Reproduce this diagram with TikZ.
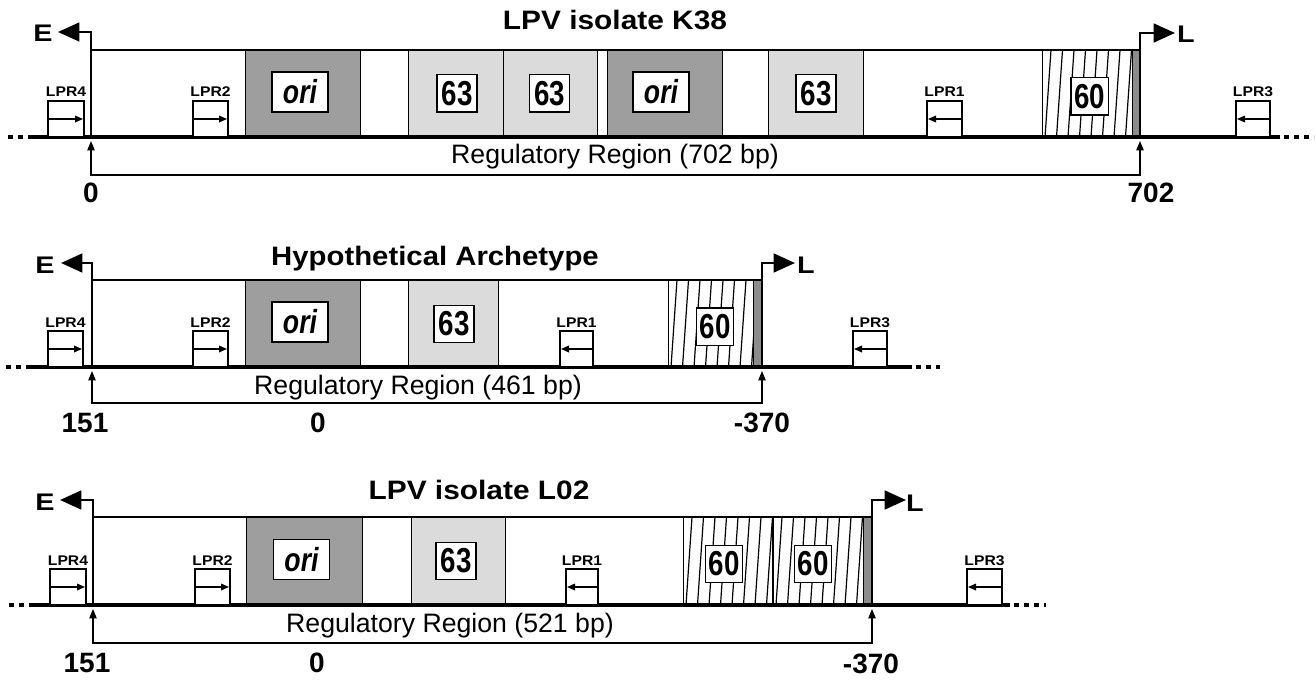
\documentclass[tikz,border=0pt]{standalone}
\usepackage{fontspec}
\usepackage{graphicx}
\setmainfont{Liberation Sans}
\usetikzlibrary{arrows.meta}
\definecolor{oricol}{gray}{0.62}
\definecolor{csixtythree}{gray}{0.86}
\definecolor{stripcol}{gray}{0.55}

\newcommand{\narrow}[1]{\scalebox{0.8}[1]{#1}}
\newcommand{\widen}[2]{\scalebox{#1}[1]{#2}}

% shaded segment: x1 x2 top base colour
\newcommand{\mkseg}[5]{\fill[#5] (#1,#3) rectangle (#2,#4);
  \draw[segline] (#1,#3) rectangle (#2,#4);}
% hatched segment: x1 x2 top base
\newcommand{\mkhatch}[4]{\fill[white] (#1,#3) rectangle (#2,#4);
  \begin{scope}
    \clip (#1,#3) rectangle (#2,#4);
    \foreach \k in {0,...,8} {\draw[hatchline] ({#1+3+\k*11.5},#4) -- ({#1+9+\k*11.5},#3);}
  \end{scope}
  \draw[segline] (#1,#3) rectangle (#2,#4);}
% LPR box, arrow to the right: name x1 x2 base label
\newcommand{\lprright}[5]{\draw[lprbox] (#2,{#4-36}) rectangle (#3,#4);
  \draw[lprarrow] (#2,{#4-18}) -- ({#3-1},{#4-18});
  \node[lprtext] (#1) at ({(#2+#3)/2},{#4-40}) {\widen{1.12}{#5}};}
% LPR box, arrow to the left
\newcommand{\lprleft}[5]{\draw[lprbox] (#2,{#4-36}) rectangle (#3,#4);
  \draw[lprarrow] (#3,{#4-18}) -- ({#2+1},{#4-18});
  \node[lprtext] (#1) at ({(#2+#3)/2},{#4-40}) {\widen{1.12}{#5}};}

\begin{document}
\begin{tikzpicture}[x=0.75pt,y=-0.75pt,
  segline/.style={draw=black, line width=0.6pt},
  hatchline/.style={draw=black, line width=0.9pt},
  frame/.style={line width=1.1pt},
  baseln/.style={line width=2.3pt},
  outln/.style={line width=3pt},
  dotsln/.style={line width=3pt, dash pattern=on 4pt off 3.5pt},
  promoter/.style={line width=2pt, -{Triangle[length=16pt,width=14pt]}},
  bracket/.style={line width=0.9pt, {Triangle[length=7pt,width=5.5pt]}-{Triangle[length=7pt,width=5.5pt]}},
  lprbox/.style={draw=black, fill=white, line width=1pt},
  lprarrow/.style={line width=0.9pt, -{Triangle[length=6pt,width=5pt]}},
  lprtext/.style={inner sep=0pt, anchor=base, font=\fontsize{10.5}{11}\selectfont\bfseries},
  orilbl/.style={draw=black, fill=white, line width=1pt, inner sep=0pt, minimum width=42pt, minimum height=30pt, font=\fontsize{25}{25}\selectfont\bfseries\itshape},
  numlbl/.style={draw=black, fill=white, line width=1pt, inner sep=0pt, minimum width=30pt, minimum height=28pt, font=\fontsize{26}{26}\selectfont\bfseries},
  sixlbl/.style={draw=black, fill=white, line width=1pt, inner sep=0pt, minimum width=28pt, minimum height=28pt, font=\fontsize{26}{26}\selectfont\bfseries},
  titletext/.style={anchor=base, inner sep=0pt, font=\fontsize{20}{24}\selectfont\bfseries},
  regtext/.style={anchor=base, inner sep=0pt, font=\fontsize{20}{24}\selectfont},
  numtext/.style={anchor=base, inner sep=0pt, font=\fontsize{21}{24}\selectfont\bfseries},
  eltext/.style={anchor=base, inner sep=0pt, font=\fontsize{18}{20}\selectfont\bfseries}]
\useasboundingbox (0,0) rectangle (1316,681);

%================ Row 1 : LPV isolate K38 ================
\mkseg{245}{360}{50}{137}{oricol}
\mkseg{408}{503}{50}{137}{csixtythree}
\mkseg{503}{597}{50}{137}{csixtythree}
\mkseg{607}{722}{50}{137}{oricol}
\mkseg{768}{863}{50}{137}{csixtythree}
\mkhatch{1042}{1132}{50}{137}
\mkseg{1132}{1140}{50}{137}{stripcol}
\draw[frame] (91,50) -- (1140,50);
\coordinate (ks) at (91,137);
\coordinate (ke) at (1140,137);
\coordinate (kll) at (32,137);
\coordinate (krr) at (1280,137);
\draw[baseln] (ks) -- (ke);
\draw[outln] (kll) -- (ks);
\draw[outln] (ke) -- (krr);
\draw[dotsln] (8,137) -- (kll);
\draw[dotsln] (1284,137) -- (1314,137);
\coordinate (kE) at (58,32);
\coordinate (kL) at (1175,33);
\draw[promoter] (ks) |- (kE);
\draw[promoter] (ke) |- (kL);
\lprright{klpr4}{48}{84}{137}{LPR4}
\lprright{klpr2}{193}{228}{137}{LPR2}
\lprleft{klpr1}{927}{962}{137}{LPR1}
\lprleft{klpr3}{1236}{1270}{137}{LPR3}
\node[orilbl] (kori1) at (300,92) {\narrow{ori}};
\node[numlbl] (ksa) at (457,93.5) {\narrow{63}};
\node[numlbl] (ksb) at (549.5,93.5) {\narrow{63}};
\node[orilbl] (kori2) at (661,92) {\narrow{ori}};
\node[numlbl] (ksc) at (816,93.5) {\narrow{63}};
\node[sixlbl] (ksix) at (1089.5,96.5) {\narrow{60}};
\coordinate (kta) at (91,141);
\coordinate (ktb) at (1140,141);
\coordinate (kbr) at (1140,175);
\draw[bracket] (kta) |- (kbr) -- (ktb);
\node[titletext] (ktitle) at (615,30) {\widen{1.12}{LPV isolate K38}};
\node[regtext] (kreg) at (615,163) {Regulatory Region (702 bp)};
\node[numtext] (kn0) at (91,202) {0};
\node[numtext] (kn702) at (1151,202) {702};
\node[eltext] (kEt) at (43,42) {\widen{1.2}{E}};
\node[eltext] (kLt) at (1186,43) {\widen{1.2}{L}};

%================ Row 2 : Hypothetical Archetype ================
\mkseg{245}{360}{280}{367}{oricol}
\mkseg{408}{498}{280}{367}{csixtythree}
\mkhatch{668}{753}{280}{367}
\mkseg{753}{762}{280}{367}{stripcol}
\draw[frame] (92,280) -- (762,280);
\coordinate (hs) at (92,367);
\coordinate (he) at (762,367);
\coordinate (hll) at (30,367);
\coordinate (hrr) at (912,367);
\draw[baseln] (hs) -- (he);
\draw[outln] (hll) -- (hs);
\draw[outln] (he) -- (hrr);
\draw[dotsln] (6,367) -- (hll);
\draw[dotsln] (916,367) -- (940,367);
\coordinate (hE) at (61,263);
\coordinate (hL) at (795,263);
\draw[promoter] (hs) |- (hE);
\draw[promoter] (he) |- (hL);
\lprright{hlpr4}{48}{83}{367}{LPR4}
\lprright{hlpr2}{193}{228}{367}{LPR2}
\lprleft{hlpr1}{560}{593}{367}{LPR1}
\lprleft{hlpr3}{853}{887}{367}{LPR3}
\node[orilbl] (hori) at (300,322) {\narrow{ori}};
\node[numlbl] (hsa) at (454,324) {\narrow{63}};
\node[sixlbl] (hsix) at (715,326.5) {\narrow{60}};
\coordinate (hta) at (92,371);
\coordinate (htb) at (762,371);
\coordinate (hbr) at (762,403);
\draw[bracket] (hta) |- (hbr) -- (htb);
\node[titletext] (htitle) at (435,265) {\widen{1.1}{Hypothetical Archetype}};
\node[regtext] (hreg) at (418,394) {Regulatory Region (461 bp)};
\node[numtext] (hn151) at (85,432) {151};
\node[numtext] (hn0) at (318,432) {0};
\node[numtext] (hn370) at (762,432) {-370};
\node[eltext] (hEt) at (45,273) {\widen{1.2}{E}};
\node[eltext] (hLt) at (806,273) {\widen{1.2}{L}};

%================ Row 3 : LPV isolate L02 ================
\mkseg{246}{362}{517}{605}{oricol}
\mkseg{411}{505}{517}{605}{csixtythree}
\mkhatch{683}{773}{517}{605}
\mkhatch{773}{863}{517}{605}
\draw[line width=1.2pt] (773,517) -- (773,605);
\mkseg{863}{872}{517}{605}{stripcol}
\draw[frame] (93,517) -- (872,517);
\coordinate (ls) at (93,605);
\coordinate (le) at (872,605);
\coordinate (lll) at (33,605);
\coordinate (lrr) at (1010,605);
\draw[baseln] (ls) -- (le);
\draw[outln] (lll) -- (ls);
\draw[outln] (le) -- (lrr);
\draw[dotsln] (9,605) -- (lll);
\draw[dotsln] (1014,605) -- (1046,605);
\coordinate (lE) at (60,500);
\coordinate (lL) at (906,500);
\draw[promoter] (ls) |- (lE);
\draw[promoter] (le) |- (lL);
\lprright{llpr4}{50}{86}{605}{LPR4}
\lprright{llpr2}{195}{230}{605}{LPR2}
\lprleft{llpr1}{566}{598}{605}{LPR1}
\lprleft{llpr3}{967}{1002}{605}{LPR3}
\node[orilbl] (lori) at (301.5,559.5) {\narrow{ori}};
\node[numlbl] (lsa) at (456,561) {\narrow{63}};
\node[sixlbl] (lsixa) at (724,564) {\narrow{60}};
\node[sixlbl] (lsixb) at (813,564) {\narrow{60}};
\coordinate (lta) at (93,609);
\coordinate (ltb) at (872,609);
\coordinate (lbr) at (872,643);
\draw[bracket] (lta) |- (lbr) -- (ltb);
\node[titletext] (ltitle) at (479,499) {\widen{1.12}{LPV isolate L02}};
\node[regtext] (lreg) at (450,632) {Regulatory Region (521 bp)};
\node[numtext] (ln151) at (87,672) {151};
\node[numtext] (ln0) at (317,672) {0};
\node[numtext] (ln370) at (871,673) {-370};
\node[eltext] (lEt) at (45,510) {\widen{1.2}{E}};
\node[eltext] (lLt) at (915,511) {\widen{1.2}{L}};
\end{tikzpicture}
\end{document}
